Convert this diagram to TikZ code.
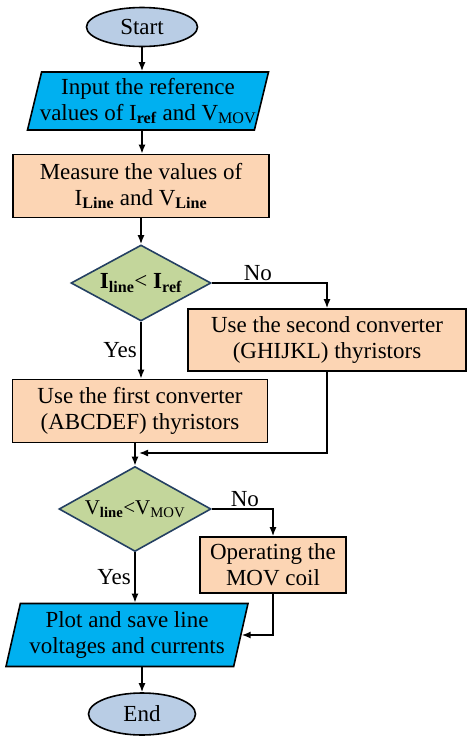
\documentclass[tikz,border=0pt]{standalone}
\usepackage{fontspec}
\setmainfont{Liberation Serif}
\usetikzlibrary{shapes.geometric,arrows.meta}
\definecolor{termfill}{RGB}{185,205,229}
\definecolor{iofill}{RGB}{0,176,240}
\definecolor{procfill}{RGB}{252,213,180}
\definecolor{decfill}{RGB}{195,214,155}
\definecolor{decline}{RGB}{36,64,98}

\begin{document}
\begin{tikzpicture}[x=1pt, y=1pt, line width=1.6pt, >={Latex[length=9pt,width=7pt]},
        font=\fontsize{23}{26}\selectfont,
        term/.style = {draw, ellipse, fill=termfill, inner sep=0pt},
        io/.style = {draw, trapezium, trapezium left angle=73, trapezium right angle=107,
            trapezium stretches body, fill=iofill, align=center, inner xsep=-14pt, inner ysep=0pt},
        proc/.style = {draw, rectangle, fill=procfill, align=center, inner sep=0pt},
        dec/.style = {draw=decline, diamond, fill=decfill, inner sep=0pt}]
        \useasboundingbox (0,0) rectangle (476,-745);

        \node[term, minimum width=111, minimum height=39] (1) at (142,-27) {Start};
        \node[io, minimum width=241, minimum height=58] (2) at (148,-101)
            {Input the reference\\values of I\textsubscript{\textbf{ref}} and V\textsubscript{MOV}};
        \node[proc, minimum width=256, minimum height=63] (3) at (141,-186)
            {Measure the values of\\I\textsubscript{\textbf{Line}} and V\textsubscript{\textbf{Line}}};
        \node[dec, aspect=1.84, minimum width=140, minimum height=76] (4) at (141,-283)
            {\textbf{I\textsubscript{line}}< \textbf{I\textsubscript{ref}}};
        \node[proc, minimum width=278, minimum height=62] (5) at (327,-340)
            {Use the second converter\\(GHIJKL) thyristors};
        \node[proc, minimum width=255, minimum height=63] (6) at (140,-411)
            {Use the first converter\\(ABCDEF) thyristors};
        \node[dec, aspect=1.79, minimum width=152, minimum height=85, font=\fontsize{21}{24}\selectfont] (7) at (135,-509)
            {V\textsubscript{\textbf{line}}<V\textsubscript{MOV}};
        \node[proc, minimum width=146, minimum height=56] (8) at (273,-565)
            {Operating the\\MOV coil};
        \node[io, minimum width=242, minimum height=63] (9) at (127,-635)
            {Plot and save line\\voltages and currents};
        \node[term, minimum width=107, minimum height=42] (10) at (142,-714) {End};

        \coordinate (m1) at (139,-453);

        \draw[->] (1) -- (1 |- 2.north);
        \draw[->] (2.south -| 1) -- (3.north -| 1);
        \draw[->] (3) -- (4);
        \draw[->] (4.east) -| (5.north) node [pos=0.2, above, inner sep=1pt] {No};
        \draw[->] (4.south) -- (4 |- 6.north) node [midway, left] {Yes};
        \draw[->] (5.south) |- (m1);
        \draw[->] (6.south -| 7) -- (7.north);
        \draw[->] (7.east) -| (8.north) node [pos=0.27, above, inner sep=1pt] {No};
        \draw[->] (7.south) -- (7 |- 9.north) node [midway, left] {Yes};
        \draw[->] (8.south) |- (9.east);
        \draw[->] (9.south -| 10) -- (10);

    \end{tikzpicture}
\end{document}
